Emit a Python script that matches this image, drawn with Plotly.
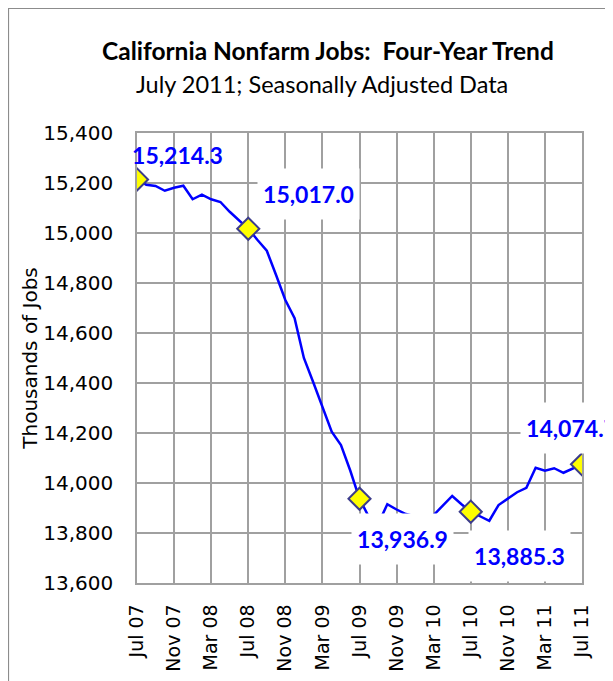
import plotly.graph_objects as go

# ---- data ----
months = ["Jul 07", "Aug 07", "Sep 07", "Oct 07", "Nov 07", "Dec 07",
          "Jan 08", "Feb 08", "Mar 08", "Apr 08", "May 08", "Jun 08",
          "Jul 08", "Aug 08", "Sep 08", "Oct 08", "Nov 08", "Dec 08",
          "Jan 09", "Feb 09", "Mar 09", "Apr 09", "May 09", "Jun 09",
          "Jul 09", "Aug 09", "Sep 09", "Oct 09", "Nov 09", "Dec 09",
          "Jan 10", "Feb 10", "Mar 10", "Apr 10", "May 10", "Jun 10",
          "Jul 10", "Aug 10", "Sep 10", "Oct 10", "Nov 10", "Dec 10",
          "Jan 11", "Feb 11", "Mar 11", "Apr 11", "May 11", "Jun 11",
          "Jul 11"]
jobs = [15214.3, 15193, 15188, 15169, 15181, 15189,
        15135, 15153, 15135, 15124, 15085, 15052,
        15017.0, 14972, 14929, 14832, 14732, 14659,
        14500, 14404, 14305, 14205, 14152, 14050,
        13936.9, 13865, 13835, 13915, 13894, 13876,
        13866, 13850, 13872, 13910, 13948, 13915,
        13885.3, 13867, 13849, 13912, 13939, 13963,
        13981, 14061, 14049, 14059, 14041, 14059,
        14074.7]
tick_labels = ["Jul 07", "Nov 07", "Mar 08", "Jul 08", "Nov 08", "Mar 09",
               "Jul 09", "Nov 09", "Mar 10", "Jul 10", "Nov 10", "Mar 11",
               "Jul 11"]
highlight_months = ["Jul 07", "Jul 08", "Jul 09", "Jul 10", "Jul 11"]
highlight_values = [15214.3, 15017.0, 13936.9, 13885.3, 14074.7]
# label offsets in pixels (x right, y up) and whether a white box is drawn
label_shift = [(40, 24, False), (60, 35, True), (43, -40, True),
               (49, -44, True), (-11, 36, True)]

title_text = "California Nonfarm Jobs:\u00a0 Four-Year Trend"
subtitle_text = "July 2011; Seasonally Adjusted Data"

# the page body adds an 8px offset; figure pixel = screen pixel - 8
OFF = 8
FW, FH = 613 - OFF, 681 - OFF
L, T = 137 - OFF, 133 - OFF
W, H = 445, 450
R, B = FW - L - W, FH - T - H


def px_x(p):
    return (p - OFF - L) / W


def px_y(p):
    return (T + H - (p - OFF)) / H


fig = go.Figure()
fig.add_trace(go.Scatter(x=months, y=jobs, mode="lines",
                         line=dict(color="#0000FF", width=2.5),
                         hoverinfo="skip", showlegend=False))
fig.add_trace(go.Scatter(x=highlight_months, y=highlight_values, mode="markers",
                         marker=dict(symbol="diamond", size=17, color="#FFFF00",
                                     line=dict(color="#3C3C8C", width=2)),
                         showlegend=False))

for m, v, (dx, dy, box) in zip(highlight_months, highlight_values, label_shift):
    fig.add_annotation(x=m, y=v, xref="x", yref="y", text=f"<b>{v:,.1f}</b>",
                       showarrow=False, xshift=dx, yshift=dy,
                       font=dict(family="Lato", size=23, color="#0000FF"),
                       bgcolor="white" if box else "rgba(0,0,0,0)",
                       width=99, height=48)

fig.add_annotation(x=px_x(328), y=px_y(50), xref="paper", yref="paper",
                   text=f"<b>{title_text}</b>", showarrow=False,
                   xanchor="center", yanchor="middle",
                   font=dict(family="Lato", size=24.5, color="black"))
fig.add_annotation(x=px_x(322), y=px_y(84), xref="paper", yref="paper",
                   text=subtitle_text, showarrow=False,
                   xanchor="center", yanchor="middle",
                   font=dict(family="Lato", size=23.5, color="black"))

# outer chart border (left and top edges visible in the window)
fig.add_shape(type="rect", xref="paper", yref="paper",
              x0=px_x(8.5), x1=px_x(640), y0=px_y(700), y1=px_y(8.5),
              line=dict(color="#8C8C8C", width=1.2), fillcolor="rgba(0,0,0,0)",
              layer="below")

fig.update_layout(
    width=FW, height=FH,
    margin=dict(l=L, r=R, t=T, b=B, autoexpand=False),
    paper_bgcolor="white", plot_bgcolor="white",
)
fig.update_xaxes(type="category", range=[0, 48], tickvals=tick_labels,
                 ticktext=tick_labels, tickangle=-90, automargin=False,
                 showgrid=True, gridcolor="#A0A0A0", gridwidth=1.5,
                 showline=True, linecolor="#A0A0A0", linewidth=1.5, mirror=True,
                 ticks="", ticklabelstandoff=12,
                 tickfont=dict(family="DejaVu Sans", size=19, color="black"))
fig.update_yaxes(range=[13600, 15400], dtick=200, tickformat=",",
                 automargin=False,
                 showgrid=True, gridcolor="#A0A0A0", gridwidth=1.5,
                 showline=True, linecolor="#A0A0A0", linewidth=1.5, mirror=True,
                 ticks="", ticklabelstandoff=18,
                 tickfont=dict(family="DejaVu Sans", size=20, color="black"),
                 title=dict(text="Thousands of Jobs", standoff=0,
                            font=dict(family="DejaVu Sans", size=20, color="black")))

fig.write_html("out.html")
